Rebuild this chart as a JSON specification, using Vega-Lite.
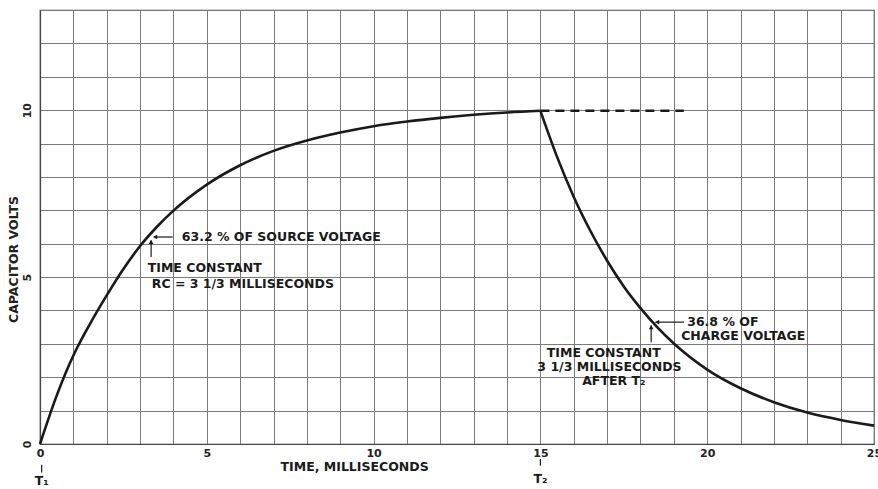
{
  "$schema": "https://vega.github.io/schema/vega-lite/v6.json",
  "width": 834,
  "height": 434,
  "autosize": {"type": "none"},
  "padding": {"left": 40, "top": 10, "right": 4, "bottom": 45},
  "background": "white",
  "config": {"view": {"stroke": "#444", "strokeWidth": 1.2}, "font": "DejaVu Sans"},
  "datasets": {
    "curve": [
      {"t": 0, "v": 0, "s": "charge"},
      {"t": 0.5, "v": 1.45, "s": "charge"},
      {"t": 1, "v": 2.65, "s": "charge"},
      {"t": 1.5, "v": 3.6, "s": "charge"},
      {"t": 2, "v": 4.45, "s": "charge"},
      {"t": 2.5, "v": 5.24, "s": "charge"},
      {"t": 3, "v": 5.93, "s": "charge"},
      {"t": 3.5, "v": 6.5, "s": "charge"},
      {"t": 4, "v": 6.99, "s": "charge"},
      {"t": 5, "v": 7.77, "s": "charge"},
      {"t": 6, "v": 8.35, "s": "charge"},
      {"t": 7, "v": 8.78, "s": "charge"},
      {"t": 8, "v": 9.09, "s": "charge"},
      {"t": 9, "v": 9.33, "s": "charge"},
      {"t": 10, "v": 9.52, "s": "charge"},
      {"t": 11, "v": 9.66, "s": "charge"},
      {"t": 12, "v": 9.77, "s": "charge"},
      {"t": 13, "v": 9.86, "s": "charge"},
      {"t": 14, "v": 9.93, "s": "charge"},
      {"t": 15, "v": 9.98, "s": "charge"},
      {"t": 15, "v": 9.98, "s": "discharge"},
      {"t": 15.5, "v": 8.6, "s": "discharge"},
      {"t": 16, "v": 7.4, "s": "discharge"},
      {"t": 16.5, "v": 6.38, "s": "discharge"},
      {"t": 17, "v": 5.49, "s": "discharge"},
      {"t": 17.5, "v": 4.72, "s": "discharge"},
      {"t": 18, "v": 4.07, "s": "discharge"},
      {"t": 18.5, "v": 3.5, "s": "discharge"},
      {"t": 19, "v": 3.01, "s": "discharge"},
      {"t": 20, "v": 2.23, "s": "discharge"},
      {"t": 21, "v": 1.67, "s": "discharge"},
      {"t": 22, "v": 1.25, "s": "discharge"},
      {"t": 23, "v": 0.94, "s": "discharge"},
      {"t": 24, "v": 0.72, "s": "discharge"},
      {"t": 25, "v": 0.55, "s": "discharge"}
    ],
    "ext": [{"t": 15, "v": 9.98}, {"t": 19.3, "v": 9.98}],
    "labelsLeft": [
      {"t": 4.25, "v": 6.2, "text": "63.2 % OF SOURCE VOLTAGE"},
      {"t": 3.23, "v": 5.27, "text": "TIME CONSTANT"},
      {"t": 3.35, "v": 4.79, "text": "RC = 3  1/3 MILLISECONDS"},
      {"t": 19.4, "v": 3.66, "text": "36.8 % OF"},
      {"t": 19.22, "v": 3.23, "text": "CHARGE VOLTAGE"}
    ],
    "labelsCenter": [
      {"t": 16.9, "v": 2.72, "text": "TIME CONSTANT"},
      {"t": 17.07, "v": 2.31, "text": "3 1/3 MILLISECONDS"},
      {"t": 17.2, "v": 1.9, "text": "AFTER T₂"},
      {"t": 9.43, "v": -0.68, "text": "TIME, MILLISECONDS"},
      {"t": 0.05, "v": -1.1, "text": "T₁"},
      {"t": 15.0, "v": -1.05, "text": "T₂"}
    ],
    "arrows": [
      {"t": 3.98, "v": 6.2, "t2": 3.42, "v2": 6.2},
      {"t": 3.33, "v": 5.6, "t2": 3.33, "v2": 6.1},
      {"t": 19.3, "v": 3.65, "t2": 18.45, "v2": 3.65},
      {"t": 18.32, "v": 3.05, "t2": 18.32, "v2": 3.55},
      {"t": 0.05, "v": -0.62, "t2": 0.05, "v2": -0.85},
      {"t": 15.0, "v": -0.45, "t2": 15.0, "v2": -0.65}
    ],
    "heads": [
      {"t": 3.45, "v": 6.2, "shape": "triangle-left"},
      {"t": 3.33, "v": 6.05, "shape": "triangle-up"},
      {"t": 18.5, "v": 3.65, "shape": "triangle-left"},
      {"t": 18.32, "v": 3.5, "shape": "triangle-up"}
    ]
  },
  "encoding": {
    "x": {
      "field": "t", "type": "quantitative",
      "scale": {"domain": [0, 25], "nice": false, "zero": false},
      "axis": {
        "values": [0,1,2,3,4,5,6,7,8,9,10,11,12,13,14,15,16,17,18,19,20,21,22,23,24,25],
        "labelExpr": "datum.value % 5 === 0 ? datum.label : ''",
        "grid": true, "gridColor": "#7a7a7a", "gridWidth": 1, "gridOpacity": 1,
        "domain": true, "domainColor": "#444", "domainWidth": 1.2,
        "ticks": false, "labelPadding": 3, "labelFont": "DejaVu Sans",
        "labelFontSize": 11, "labelFontWeight": "bold", "labelColor": "#222",
        "labelFlush": false, "labelOverlap": false, "title": null
      }
    },
    "y": {
      "field": "v", "type": "quantitative",
      "scale": {"domain": [0, 13], "nice": false},
      "axis": {
        "values": [0,1,2,3,4,5,6,7,8,9,10,11,12,13],
        "labelExpr": "datum.value % 5 === 0 ? datum.label : ''",
        "grid": true, "gridColor": "#7a7a7a", "gridWidth": 1, "gridOpacity": 1,
        "domain": true, "domainColor": "#444", "domainWidth": 1.2,
        "ticks": false, "labelPadding": 8, "labelAngle": 270,
        "labelAlign": "center", "labelBaseline": "bottom",
        "labelFont": "DejaVu Sans", "labelFontSize": 11, "labelFontWeight": "bold",
        "labelColor": "#222", "labelFlush": false, "labelOverlap": false,
        "title": "CAPACITOR VOLTS", "titleAngle": 270, "titleX": -27, "titleY": 249,
        "titleAlign": "center", "titleBaseline": "middle", "titleFont": "DejaVu Sans",
        "titleFontSize": 12.5, "titleFontWeight": "bold", "titleColor": "#222"
      }
    }
  },
  "layer": [
    {
      "data": {"name": "curve"},
      "mark": {"type": "line", "interpolate": "monotone", "color": "#1a1a1a", "strokeWidth": 2.6},
      "encoding": {"detail": {"field": "s"}}
    },
    {
      "data": {"name": "ext"},
      "mark": {"type": "line", "color": "#1a1a1a", "strokeWidth": 2.6, "strokeDash": [9, 6]},
      "encoding": {}
    },
    {
      "data": {"name": "arrows"},
      "mark": {"type": "rule", "color": "#1a1a1a", "strokeWidth": 1.2},
      "encoding": {"x2": {"field": "t2"}, "y2": {"field": "v2"}}
    },
    {
      "data": {"name": "heads"},
      "mark": {"type": "point", "filled": true, "color": "#1a1a1a", "size": 22, "opacity": 1},
      "encoding": {"shape": {"field": "shape", "type": "nominal", "scale": null}}
    },
    {
      "data": {"name": "labelsLeft"},
      "mark": {"type": "text", "font": "DejaVu Sans", "fontWeight": "bold", "fontSize": 12.5, "color": "#1a1a1a", "baseline": "middle", "align": "left"},
      "encoding": {"text": {"field": "text"}}
    },
    {
      "data": {"name": "labelsCenter"},
      "mark": {"type": "text", "font": "DejaVu Sans", "fontWeight": "bold", "fontSize": 12.5, "color": "#1a1a1a", "baseline": "middle", "align": "center"},
      "encoding": {"text": {"field": "text"}}
    }
  ]
}
